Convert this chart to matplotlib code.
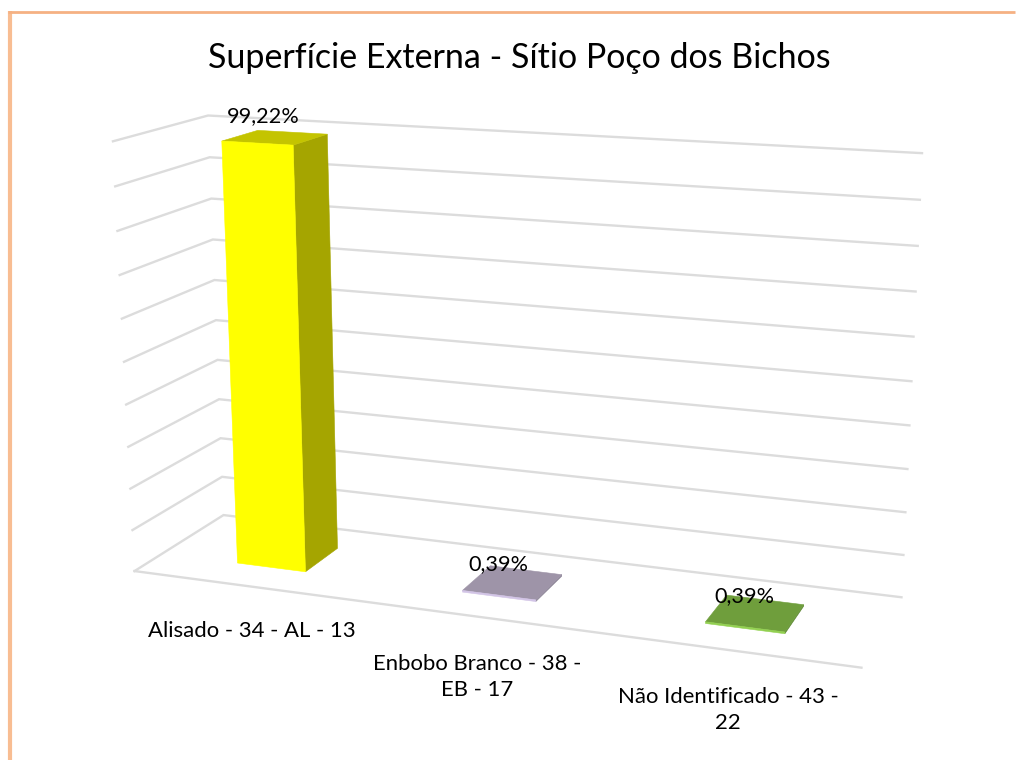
import numpy as np
import matplotlib
matplotlib.use('Agg')
import matplotlib.pyplot as plt
from matplotlib.patches import Polygon

plt.rcParams['font.family'] = ['Lato', 'DejaVu Sans']

title = 'Superfície Externa - Sítio Poço dos Bichos'
categories = ['Alisado - 34 - AL - 13', 'Enbobo Branco - 38 -\nEB - 17', 'Não Identificado - 43 -\n22']
values = [99.22, 0.39, 0.39]
value_labels = ['99,22%', '0,39%', '0,39%']
ticks = [0, 10, 20, 30, 40, 50, 60, 70, 80, 90, 100]

# front, side, top face colours
bar_colors = [('#FFFF00', '#A5A500', '#C4C400'),
              ('#D2C4E6', '#8F8799', '#9E94A8'),
              ('#92D050', '#5F8A35', '#6F9E3C')]

# where the box corners of the plot fall on the picture (u, depth, value/100) -> pixel
corners = [((0, 0, 0), (134, 571)), ((0, 1, 0), (224, 515)), ((3, 1, 0), (901, 598)),
           ((3, 0, 0), (862, 667)), ((0, 0, 1), (113, 142)), ((0, 1, 1), (208, 115)),
           ((3, 1, 1), (922, 153))]


def fit_camera(pairs):
    rows = []
    rhs = []
    for (x, y, z), (px, py) in pairs:
        rows.append([x, y, z, 1, 0, 0, 0, 0, -px*x, -px*y, -px*z])
        rhs.append(px)
        rows.append([0, 0, 0, 0, x, y, z, 1, -py*x, -py*y, -py*z])
        rhs.append(py)
    m = np.linalg.lstsq(np.array(rows, float), np.array(rhs, float), rcond=None)[0]
    return np.append(m, 1).reshape(3, 4)


cam = fit_camera(corners)


def project(u, d, v):
    p = cam @ np.array([u, d, v/100.0, 1.0])
    return p[0]/p[2], p[1]/p[2]


fig = plt.figure(figsize=(10.17, 7.60), dpi=100)
ax = fig.add_axes([0, 0, 1, 1])
ax.set_xlim(0, 1017)
ax.set_ylim(760, 0)
ax.axis('off')

# slide border
ax.plot([9.5, 9.5], [11, 760], color='#F8BD92', lw=3, solid_capstyle='butt')
ax.plot([7.5, 1015], [12, 12], color='#F5B183', lw=2, solid_capstyle='butt')

# gridlines on the two walls
grid_color = '#DCDCDC'
for t in ticks:
    pts = [project(0, 0, t), project(0, 1, t), project(3, 1, t)]
    ax.plot([p[0] for p in pts], [p[1] for p in pts], color=grid_color, lw=1.7,
            solid_joinstyle='miter', zorder=1)
# floor front edge
pts = [project(0, 0, 0), project(3, 0, 0)]
ax.plot([p[0] for p in pts], [p[1] for p in pts], color=grid_color, lw=1.7, zorder=1)

half_w = 0.155
d0, d1 = 0.30, 0.70
for i, v in enumerate(values):
    u0, u1 = i + 0.505 - half_w, i + 0.505 + half_w
    front = [project(u0, d0, 0), project(u1, d0, 0), project(u1, d0, v), project(u0, d0, v)]
    side = [project(u1, d0, 0), project(u1, d1, 0), project(u1, d1, v), project(u1, d0, v)]
    top = [project(u0, d0, v), project(u1, d0, v), project(u1, d1, v), project(u0, d1, v)]
    c_front, c_side, c_top = bar_colors[i]
    for poly, col in [(side, c_side), (top, c_top), (front, c_front)]:
        ax.add_patch(Polygon(poly, closed=True, fc=col, ec=col, lw=0.4, zorder=2))

ax.text(519, 58, title, fontsize=24.45, ha='center', va='center', color='black', zorder=5)

label_pos = [(263, 116), (498, 564), (744, 596)]
for (x, y), s in zip(label_pos, value_labels):
    ax.text(x, y, s, fontsize=15.6, ha='center', va='center', color='black', zorder=5)

cat_pos = [(252, 631), (477, 677), (728, 710)]
for (x, y), s in zip(cat_pos, categories):
    ax.text(x, y, s, fontsize=15.9, ha='center', va='center', color='black',
            linespacing=1.35, zorder=5)

fig.savefig('out.png', dpi=100)
